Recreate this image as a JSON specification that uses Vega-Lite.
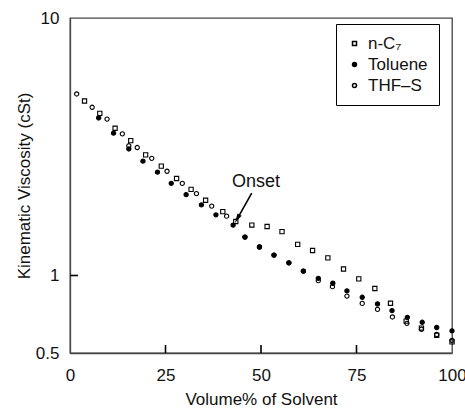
{
  "$schema": "https://vega.github.io/schema/vega-lite/v6.json",
  "width": 382,
  "height": 335,
  "autosize": {"type": "none"},
  "padding": {"left": 70, "top": 18, "right": 13, "bottom": 56},
  "background": "white",
  "config": {
    "font": "Liberation Sans",
    "view": {"stroke": "#444", "strokeWidth": 1.3},
    "axis": {
      "labelFont": "Liberation Sans",
      "titleFont": "Liberation Sans",
      "labelFontSize": 17,
      "titleFontSize": 17,
      "titleFontWeight": "normal",
      "labelColor": "#111",
      "titleColor": "#111",
      "domainColor": "#444",
      "domainWidth": 1.3,
      "ticks": false,
      "grid": false
    },
    "legend": {"labelFont": "Liberation Sans"}
  },
  "layer": [
    {
      "data": {
        "values": [
          {"tx": 25, "tx2": 25, "ty": 0.5, "ty2": 0.537},
          {"tx": 50, "tx2": 50, "ty": 0.5, "ty2": 0.537},
          {"tx": 75, "tx2": 75, "ty": 0.5, "ty2": 0.537},
          {"tx": 0, "tx2": 2.1, "ty": 1, "ty2": 1}
        ]
      },
      "mark": {"type": "rule", "strokeWidth": 1.6, "color": "black"},
      "encoding": {
        "x": {"field": "tx", "type": "quantitative", "title": "Volume% of Solvent",
          "scale": {"domain": [0, 100], "nice": false, "zero": false},
          "axis": {"values": [0, 25, 50, 75, 100], "labelPadding": 14, "titlePadding": 8, "labelFlush": false}},
        "y": {"field": "ty", "type": "quantitative", "title": "Kinematic Viscosity (cSt)",
          "scale": {"type": "log", "domain": [0.5, 10], "nice": false},
          "axis": {"values": [0.5, 1, 10], "labelPadding": 11, "titlePadding": 2, "labelFlush": false}},
        "x2": {"field": "tx2"},
        "y2": {"field": "ty2"}
      }
    },
    {
      "data": {
        "values": [
          {"series": "THF-S", "x": 1.75, "y": 5.07},
          {"series": "THF-S", "x": 5.8, "y": 4.50},
          {"series": "THF-S", "x": 9.7, "y": 4.05},
          {"series": "THF-S", "x": 13.7, "y": 3.55},
          {"series": "THF-S", "x": 15.4, "y": 3.19},
          {"series": "THF-S", "x": 17.6, "y": 3.14},
          {"series": "THF-S", "x": 21.4, "y": 2.85},
          {"series": "THF-S", "x": 25.4, "y": 2.54},
          {"series": "THF-S", "x": 29.4, "y": 2.28},
          {"series": "THF-S", "x": 33.1, "y": 2.08},
          {"series": "THF-S", "x": 37.1, "y": 1.86},
          {"series": "THF-S", "x": 41.0, "y": 1.70},
          {"series": "THF-S", "x": 45.8, "y": 1.41},
          {"series": "THF-S", "x": 49.6, "y": 1.29},
          {"series": "THF-S", "x": 53.4, "y": 1.20},
          {"series": "THF-S", "x": 57.3, "y": 1.12},
          {"series": "THF-S", "x": 61.1, "y": 1.04},
          {"series": "THF-S", "x": 65.0, "y": 0.955},
          {"series": "THF-S", "x": 68.7, "y": 0.905},
          {"series": "THF-S", "x": 72.5, "y": 0.832},
          {"series": "THF-S", "x": 76.5, "y": 0.779},
          {"series": "THF-S", "x": 80.5, "y": 0.739},
          {"series": "THF-S", "x": 84.4, "y": 0.690},
          {"series": "THF-S", "x": 88.2, "y": 0.652},
          {"series": "THF-S", "x": 92.0, "y": 0.618},
          {"series": "THF-S", "x": 96.0, "y": 0.590},
          {"series": "THF-S", "x": 100, "y": 0.560},
          {"series": "n-C7", "x": 3.8, "y": 4.76},
          {"series": "n-C7", "x": 7.8, "y": 4.26},
          {"series": "n-C7", "x": 11.8, "y": 3.73},
          {"series": "n-C7", "x": 15.9, "y": 3.34},
          {"series": "n-C7", "x": 19.8, "y": 2.94},
          {"series": "n-C7", "x": 23.9, "y": 2.66},
          {"series": "n-C7", "x": 27.9, "y": 2.38},
          {"series": "n-C7", "x": 31.7, "y": 2.16},
          {"series": "n-C7", "x": 35.5, "y": 1.96},
          {"series": "n-C7", "x": 40.0, "y": 1.77},
          {"series": "n-C7", "x": 43.4, "y": 1.62},
          {"series": "n-C7", "x": 47.6, "y": 1.57},
          {"series": "n-C7", "x": 51.6, "y": 1.55},
          {"series": "n-C7", "x": 55.5, "y": 1.48},
          {"series": "n-C7", "x": 59.6, "y": 1.32},
          {"series": "n-C7", "x": 63.5, "y": 1.25},
          {"series": "n-C7", "x": 67.5, "y": 1.17},
          {"series": "n-C7", "x": 71.6, "y": 1.06},
          {"series": "n-C7", "x": 75.6, "y": 0.97},
          {"series": "n-C7", "x": 79.8, "y": 0.89},
          {"series": "n-C7", "x": 83.9, "y": 0.78},
          {"series": "n-C7", "x": 88.0, "y": 0.665},
          {"series": "n-C7", "x": 92.0, "y": 0.625},
          {"series": "n-C7", "x": 96.0, "y": 0.585},
          {"series": "n-C7", "x": 100, "y": 0.552},
          {"series": "Toluene", "x": 7.5, "y": 4.09},
          {"series": "Toluene", "x": 11.4, "y": 3.57},
          {"series": "Toluene", "x": 15.4, "y": 3.10},
          {"series": "Toluene", "x": 19.1, "y": 2.78},
          {"series": "Toluene", "x": 22.9, "y": 2.52},
          {"series": "Toluene", "x": 26.5, "y": 2.28},
          {"series": "Toluene", "x": 30.4, "y": 2.06},
          {"series": "Toluene", "x": 34.4, "y": 1.88},
          {"series": "Toluene", "x": 38.2, "y": 1.72},
          {"series": "Toluene", "x": 42.7, "y": 1.57},
          {"series": "Toluene", "x": 45.8, "y": 1.41},
          {"series": "Toluene", "x": 49.6, "y": 1.29},
          {"series": "Toluene", "x": 53.4, "y": 1.20},
          {"series": "Toluene", "x": 57.3, "y": 1.12},
          {"series": "Toluene", "x": 61.1, "y": 1.04},
          {"series": "Toluene", "x": 65.0, "y": 0.975},
          {"series": "Toluene", "x": 68.8, "y": 0.933},
          {"series": "Toluene", "x": 72.5, "y": 0.871},
          {"series": "Toluene", "x": 76.5, "y": 0.823},
          {"series": "Toluene", "x": 80.5, "y": 0.775},
          {"series": "Toluene", "x": 84.3, "y": 0.730},
          {"series": "Toluene", "x": 88.3, "y": 0.688},
          {"series": "Toluene", "x": 92.2, "y": 0.658},
          {"series": "Toluene", "x": 96.0, "y": 0.628},
          {"series": "Toluene", "x": 100, "y": 0.609}
        ]
      },
      "mark": {"type": "point", "size": 18, "strokeWidth": 1.1, "stroke": "black", "opacity": 1},
      "encoding": {
        "x": {"field": "x", "type": "quantitative", "title": "Volume% of Solvent"},
        "y": {"field": "y", "type": "quantitative", "title": "Kinematic Viscosity (cSt)"},
        "shape": {
          "field": "series", "type": "nominal",
          "scale": {"domain": ["n-C7", "Toluene", "THF-S"], "range": ["square", "circle", "circle"]},
          "legend": {
            "title": null,
            "orient": "none", "legendX": 266, "legendY": 6,
            "strokeColor": "black", "fillColor": "white", "padding": 11, "symbolOffset": -1,
            "labelFontSize": 17, "labelColor": "#111", "labelOffset": 5, "rowPadding": 3,
            "symbolSize": 16,
            "labelExpr": "datum.label == 'n-C7' ? 'n-C₇' : datum.label == 'THF-S' ? 'THF–S' : datum.label",
            "encode": {
              "symbols": {"update": {"stroke": {"value": "black"}, "strokeWidth": {"value": 1}, "opacity": {"value": 1}}}
            }
          }
        },
        "fill": {
          "field": "series", "type": "nominal",
          "scale": {"domain": ["n-C7", "Toluene", "THF-S"], "range": ["transparent", "black", "transparent"]},
          "legend": {
            "title": null,
            "orient": "none", "legendX": 266, "legendY": 6,
            "strokeColor": "black", "fillColor": "white", "padding": 11, "symbolOffset": -1,
            "labelFontSize": 17, "labelColor": "#111", "labelOffset": 5, "rowPadding": 3,
            "symbolSize": 16,
            "labelExpr": "datum.label == 'n-C7' ? 'n-C₇' : datum.label == 'THF-S' ? 'THF–S' : datum.label",
            "encode": {
              "symbols": {"update": {"stroke": {"value": "black"}, "strokeWidth": {"value": 1}, "opacity": {"value": 1}}}
            }
          }
        }
      }
    },
    {
      "data": {"values": [{"x1": 47.57, "y1": 2.09, "x2": 43.77, "y2": 1.66}]},
      "mark": {"type": "rule", "strokeWidth": 1.6, "color": "black"},
      "encoding": {
        "x": {"field": "x1", "type": "quantitative", "title": "Volume% of Solvent"},
        "y": {"field": "y1", "type": "quantitative", "title": "Kinematic Viscosity (cSt)"},
        "x2": {"field": "x2"},
        "y2": {"field": "y2"}
      }
    },
    {
      "data": {"values": [{"x": 43.77, "y": 1.66}]},
      "mark": {"type": "point", "shape": "M0,-1L0.5,1L-0.5,1Z", "size": 90, "angle": 209.6, "filled": true, "color": "black", "opacity": 1},
      "encoding": {
        "x": {"field": "x", "type": "quantitative", "title": "Volume% of Solvent"},
        "y": {"field": "y", "type": "quantitative", "title": "Kinematic Viscosity (cSt)"}
      }
    },
    {
      "data": {"values": [{"x": 48.7, "y": 2.21, "label": "Onset"}]},
      "mark": {"type": "text", "fontSize": 18, "baseline": "alphabetic", "align": "center", "color": "#111", "font": "Liberation Sans"},
      "encoding": {
        "x": {"field": "x", "type": "quantitative", "title": "Volume% of Solvent"},
        "y": {"field": "y", "type": "quantitative", "title": "Kinematic Viscosity (cSt)"},
        "text": {"field": "label"}
      }
    }
  ]
}
